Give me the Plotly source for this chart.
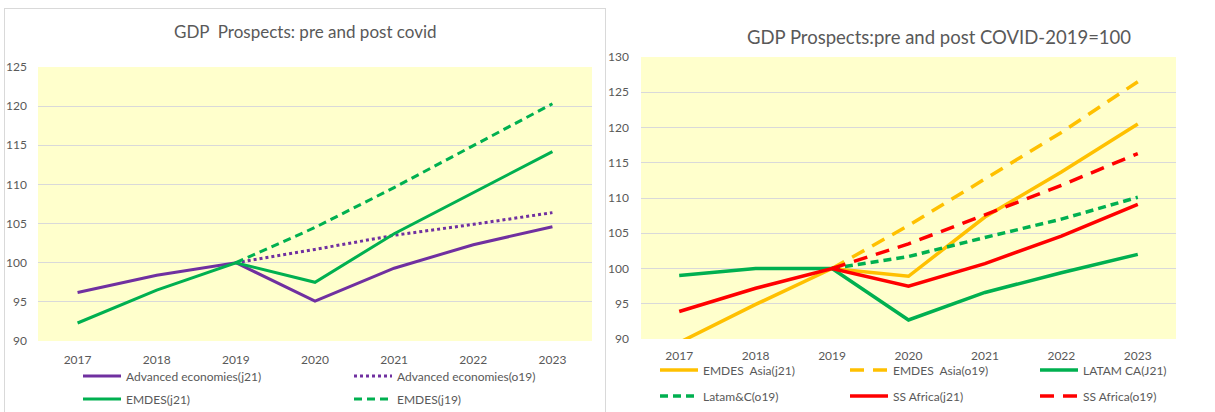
import plotly.graph_objects as go

W, H = 1215, 412

years = ["2017", "2018", "2019", "2020", "2021", "2022", "2023"]
proj_years = ["2019", "2020", "2021", "2022", "2023"]

# Left panel: advanced vs emerging economies
adv_j21 = [96.2, 98.4, 100.0, 95.1, 99.3, 102.3, 104.6]
adv_o19 = [100.0, 101.7, 103.5, 104.9, 106.4]
emdes_j21 = [92.3, 96.5, 100.0, 97.5, 103.7, 109.0, 114.2]
emdes_j19 = [100.0, 104.5, 109.6, 114.9, 120.3]

# Right panel: regional breakdown
asia_j21 = [89.5, 94.9, 100.0, 98.9, 107.3, 113.7, 120.5]
asia_o19 = [100.0, 106.1, 112.7, 119.3, 126.5]
latam_j21 = [99.0, 100.0, 100.0, 92.7, 96.6, 99.4, 102.0]
latam_o19 = [100.0, 101.7, 104.4, 107.0, 110.1]
ssa_j21 = [93.9, 97.2, 100.0, 97.5, 100.7, 104.6, 109.1]
ssa_o19 = [100.0, 103.5, 107.6, 111.8, 116.3]

PURPLE = "#7030A0"
GREEN = "#00B050"
YELLOW = "#FFC000"
RED = "#FF0000"
TXT = "#595959"
FONT = "Lato"

SHORT_DASH = "8px,5px"
LONG_DASH = "14px,9px"


def px_x(x):
    return x / W


def px_y(y):
    return 1 - y / H


fig = go.Figure()

# (name, x, y, color, dash, width, xaxis, yaxis, legend text left px, legend row y px)
series = [
    ("Advanced economies(j21)", years, adv_j21, PURPLE, "solid", 3, "x", "y", 126, 376),
    ("Advanced economies(o19)", proj_years, adv_o19, PURPLE, "dot", 3, "x", "y", 397, 376),
    ("EMDES(j21)", years, emdes_j21, GREEN, "solid", 3, "x", "y", 126, 399),
    ("EMDES(j19)", proj_years, emdes_j19, GREEN, SHORT_DASH, 3, "x", "y", 397, 399),
    ("EMDES  Asia(j21)", years, asia_j21, YELLOW, "solid", 3.5, "x2", "y2", 703, 370),
    ("EMDES  Asia(o19)", proj_years, asia_o19, YELLOW, LONG_DASH, 3.5, "x2", "y2", 893, 370),
    ("LATAM CA(J21)", years, latam_j21, GREEN, "solid", 3.5, "x2", "y2", 1083, 370),
    ("Latam&C(o19)", proj_years, latam_o19, GREEN, SHORT_DASH, 3.5, "x2", "y2", 703, 396),
    ("SS Africa(j21)", years, ssa_j21, RED, "solid", 3.5, "x2", "y2", 893, 396),
    ("SS Africa(o19)", proj_years, ssa_o19, RED, LONG_DASH, 3.5, "x2", "y2", 1083, 396),
]

legend_layouts = {}
for i, (name, xs, ys, col, dash, lw, xa, ya, lx, ly) in enumerate(series):
    lid = "legend" if i == 0 else f"legend{i + 1}"
    fig.add_trace(go.Scatter(
        x=xs, y=ys, name=name, mode="lines",
        line=dict(color=col, width=lw, dash=dash),
        xaxis=xa, yaxis=ya, legend=lid, showlegend=True,
        hoverinfo="skip",
    ))
    legend_layouts[lid] = dict(
        x=px_x(lx - 48), y=px_y(ly), xanchor="left", yanchor="middle",
        bgcolor="rgba(0,0,0,0)", borderwidth=0,
        font=dict(family=FONT, size=12, color=TXT),
        itemwidth=38,
    )

axis_common = dict(
    showline=False, ticks="", zeroline=False,
    tickfont=dict(family=FONT, size=12, color=TXT),
)

fig.update_layout(
    width=W, height=H,
    margin=dict(l=0, r=0, t=0, b=0, autoexpand=False),
    paper_bgcolor="white",
    plot_bgcolor="#FFFFCC",
    showlegend=True,
    xaxis=dict(domain=[px_x(38), px_x(592)], anchor="y", type="category",
               range=[-0.5, 6.5], showgrid=False, ticklabelstandoff=10,
               **axis_common),
    yaxis=dict(domain=[px_y(341), px_y(67)], anchor="x", range=[90, 125],
               dtick=5, showgrid=True, gridcolor="#D9D9D9", gridwidth=1,
               ticklabelstandoff=10, **axis_common),
    xaxis2=dict(domain=[px_x(641), px_x(1176)], anchor="y2", type="category",
                range=[-0.5, 6.5], showgrid=False, ticklabelstandoff=8,
                **axis_common),
    yaxis2=dict(domain=[px_y(339), px_y(57)], anchor="x2", range=[90, 130],
                dtick=5, showgrid=True, gridcolor="#D9D9D9", gridwidth=1,
                ticklabelstandoff=11, **axis_common),
    **legend_layouts,
)

# Chart titles
fig.add_annotation(text="GDP  Prospects: pre and post covid", x=px_x(305), y=px_y(32),
                   xref="paper", yref="paper", xanchor="center", yanchor="middle",
                   showarrow=False, font=dict(family=FONT, size=17, color=TXT))
fig.add_annotation(text="GDP Prospects:pre and post COVID-2019=100", x=px_x(939), y=px_y(37),
                   xref="paper", yref="paper", xanchor="center", yanchor="middle",
                   showarrow=False, font=dict(family=FONT, size=18.5, color=TXT))

# Panel borders
border = dict(color="#D9D9D9", width=1)
fig.add_shape(type="line", xref="paper", yref="paper", x0=px_x(4.5), x1=px_x(4.5),
              y0=px_y(8), y1=0, line=border)
fig.add_shape(type="line", xref="paper", yref="paper", x0=px_x(4.5), x1=px_x(605.5),
              y0=px_y(8.5), y1=px_y(8.5), line=border)
fig.add_shape(type="line", xref="paper", yref="paper", x0=px_x(605.5), x1=px_x(605.5),
              y0=px_y(8), y1=0, line=border)

fig.write_html("out.html")
